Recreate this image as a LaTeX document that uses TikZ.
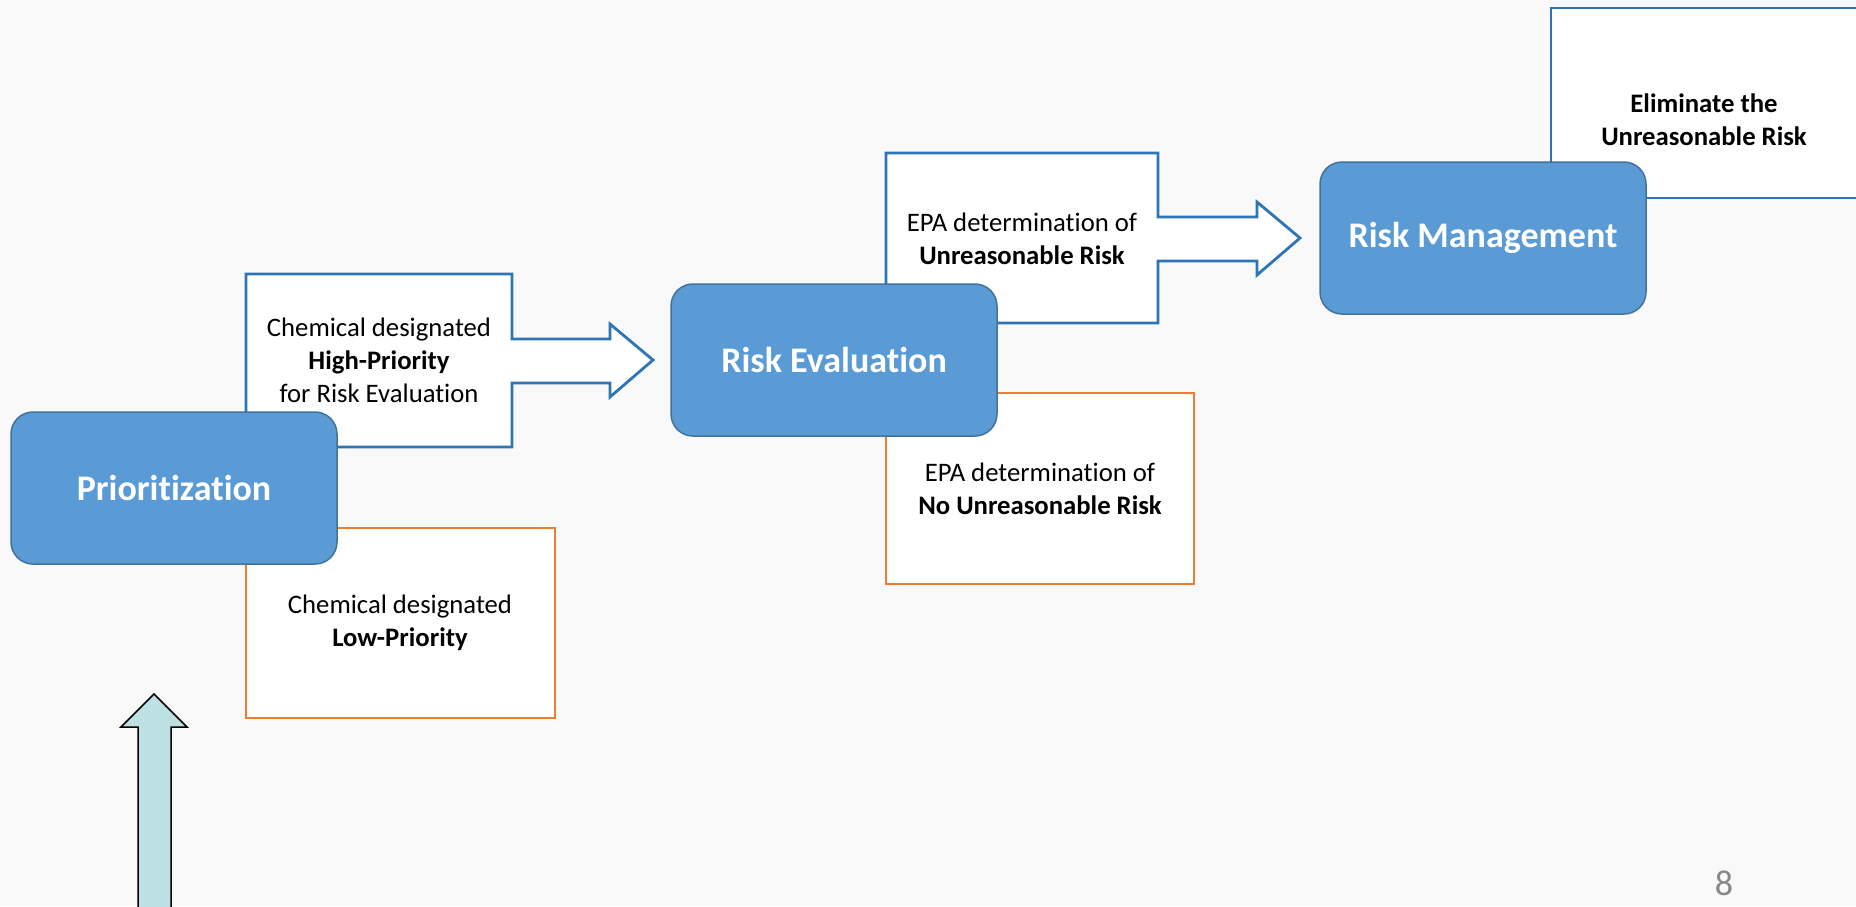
\documentclass[tikz,border=0pt]{standalone}
\usepackage{fontspec}
\setmainfont{Carlito}[Ligatures=NoCommon]
\definecolor{stagefill}{HTML}{5B9BD5}
\definecolor{stageline}{HTML}{41719C}
\definecolor{goline}{HTML}{2E75B6}
\definecolor{stopline}{HTML}{ED7D31}
\definecolor{pagebg}{HTML}{F9F9F9}
\definecolor{inflow}{HTML}{BDE0E3}
\definecolor{pagenum}{HTML}{888888}

\tikzset{
  stage/.style={draw=stageline, fill=stagefill, line width=1.5pt, rounded corners=22pt,
    minimum width=326pt, minimum height=152pt, text=white,
    font=\fontsize{36}{42}\selectfont\bfseries},
  gobox/.style={draw=goline, fill=white, line width=2.8pt, line join=miter},
  stopbox/.style={draw=stopline, fill=white, line width=2.8pt},
  note/.style={align=center, font=\fontsize{26.7}{33}\selectfont},
}

\begin{document}
\begin{tikzpicture}[x=1pt, y=-1pt]
\useasboundingbox[fill=pagebg] (0,0) rectangle (1856,906);

% outcome boxes behind the stages
\draw[gobox] (246,274) -- (512,274) -- (512,339) -- (610,339) -- (610,324) -- (653,360)
  -- (610,397) -- (610,383) -- (512,383) -- (512,447) -- (246,447) -- cycle;
\draw[stopbox] (246,528) rectangle (555,718);
\draw[gobox] (886,153) -- (1158,153) -- (1158,217) -- (1257,217) -- (1257,202) -- (1300,238)
  -- (1257,275) -- (1257,261) -- (1158,261) -- (1158,323) -- (886,323) -- cycle;
\draw[stopbox] (886,393) rectangle (1194,584);
\draw[gobox] (1551,8) rectangle (1862,198);

\node[note] (high) at (379,360) {Chemical designated\\\textbf{High-Priority}\\for Risk Evaluation};
\node[note] (low) at (400,623) {Chemical designated\\\textbf{Low-Priority}};
\node[note] (unreas) at (1022,239) {EPA determination of\\\textbf{Unreasonable Risk}};
\node[note] (nounreas) at (1040,489) {EPA determination of\\\textbf{No Unreasonable Risk}};
\node[note] (elim) at (1704,120) {\textbf{Eliminate the}\\\textbf{Unreasonable Risk}};

% stages
\node[stage] (prio) at (174,488) {Prioritization};
\node[stage] (eval) at (834,360) {Risk Evaluation};
\node[stage] (manage) at (1483,238) {Risk Management};

% incoming arrow
\draw[fill=inflow, line width=1.5pt, line join=miter] (154,694) -- (187,727) -- (171,727)
  -- (171,915) -- (138,915) -- (138,727) -- (121,727) -- cycle;

\node[text=pagenum, inner sep=0pt, font=\fontsize{36}{40}\selectfont] (page) at (1724,883) {8};
\end{tikzpicture}
\end{document}
